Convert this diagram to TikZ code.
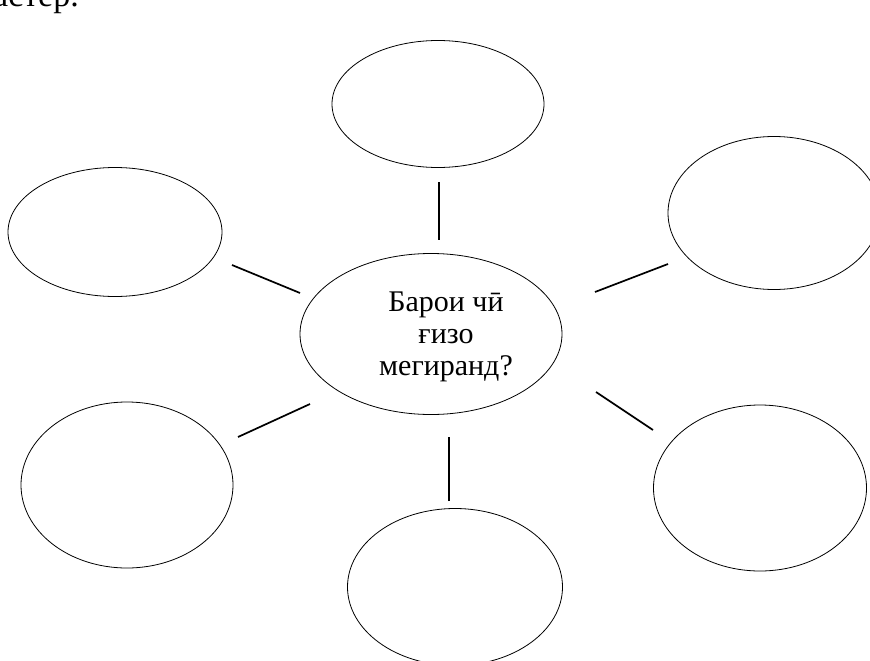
\documentclass[tikz,border=0pt]{standalone}
\usepackage{fontspec}
\setmainfont{Liberation Serif}
\usetikzlibrary{shapes.geometric}
\newcommand{\bigtxt}{\fontsize{30}{32}\selectfont}
\newcommand{\headtxt}{\fontsize{34}{40}\selectfont}
\tikzset{
  bubble/.style={draw, ellipse, line width=0.8pt, inner sep=0pt},
  link/.style={line width=1.7pt},
  lbl/.style={font=\bigtxt, align=center, inner sep=0pt}
}
\begin{document}
\begin{tikzpicture}[x=1pt,y=-1pt]
\useasboundingbox (0,0) rectangle (870,661);
\clip (0,0) rectangle (870,661);
\node[anchor=base west, inner sep=0pt, font=\headtxt] (top) at (-7,7) {астер.};
\node[bubble, minimum width=262pt, minimum height=161pt] (c) at (431,334) {};
\node[lbl, anchor=base] (ct) at (446,375) {Барои чӣ\\ғизо\\мегиранд?};
\node[bubble, minimum width=212pt, minimum height=127pt] (n) at (438,104) {};
\node[bubble, minimum width=214pt, minimum height=129pt] (nw) at (115,232) {};
\node[bubble, minimum width=212pt, minimum height=153pt] (ne) at (774,213) {};
\node[bubble, minimum width=212pt, minimum height=166pt] (sw) at (127,485) {};
\node[bubble, minimum width=213pt, minimum height=166pt] (se) at (760,488) {};
\node[bubble, minimum width=215pt, minimum height=157pt] (s) at (455,587) {};
\coordinate (n1) at (439,182); \coordinate (n2) at (439,240);
\coordinate (nw1) at (232,265); \coordinate (nw2) at (300,293);
\coordinate (ne1) at (668,264); \coordinate (ne2) at (595,292);
\coordinate (sw1) at (238,437); \coordinate (sw2) at (310,404);
\coordinate (se1) at (653,430); \coordinate (se2) at (596,392);
\coordinate (s1) at (449,501); \coordinate (s2) at (449,437);
\draw[link] (n1) -- (n2);
\draw[link] (nw1) -- (nw2);
\draw[link] (ne1) -- (ne2);
\draw[link] (sw1) -- (sw2);
\draw[link] (se1) -- (se2);
\draw[link] (s1) -- (s2);
\end{tikzpicture}
\end{document}
